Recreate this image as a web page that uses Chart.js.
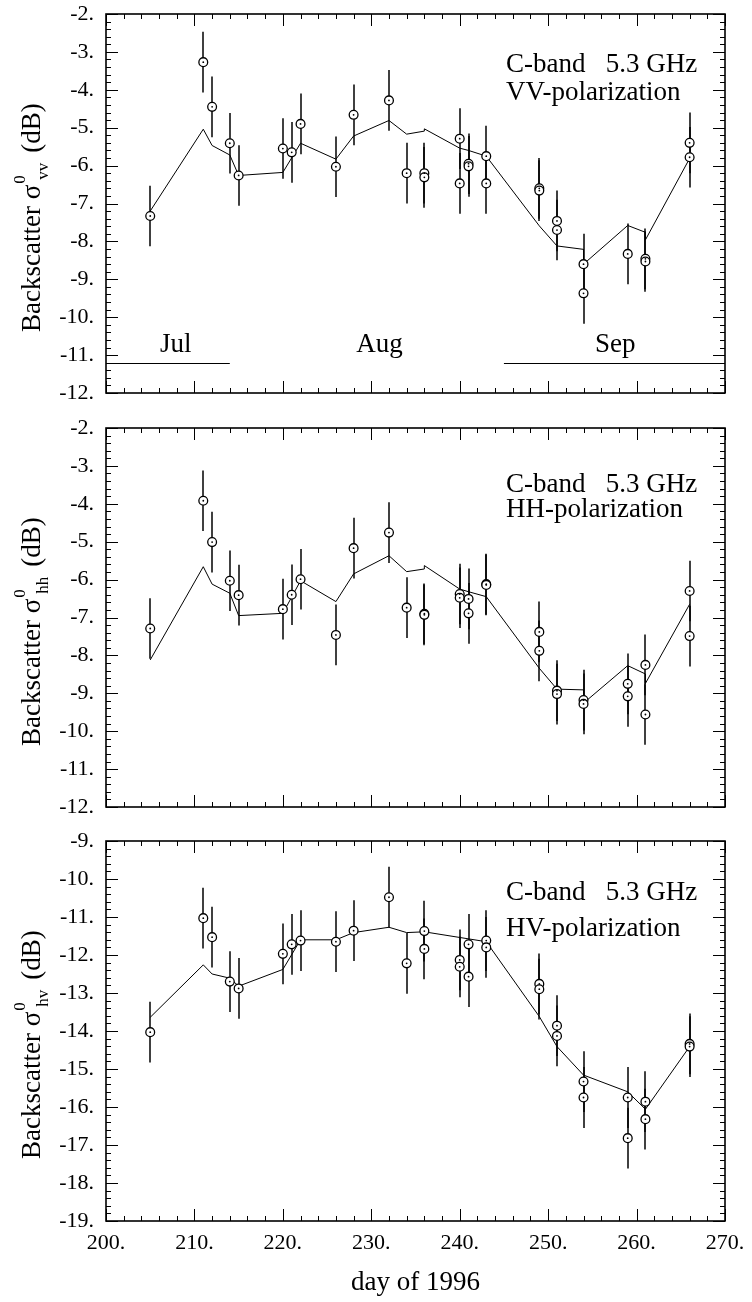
<!DOCTYPE html>
<html>
<head>
<meta charset="utf-8">
<script src="https://cdn.jsdelivr.net/npm/chart.js@4.4.1/dist/chart.umd.min.js"></script>
<style>
  html, body { margin: 0; padding: 0; background: #fff; }
  #wrap { position: relative; width: 752px; height: 1302px; }
  canvas { position: absolute; left: 0; }
</style>
</head>
<body>
<div id="wrap">
  <canvas id="vv" width="752" height="410" style="top:0px"></canvas>
  <canvas id="hh" width="752" height="415" style="top:410px"></canvas>
  <canvas id="hv" width="752" height="477" style="top:825px"></canvas>
</div>
<script>
const serif = "'Liberation Serif', 'DejaVu Serif', serif";

// measured backscatter (dB) per day of 1996
const vvDays = [205, 211, 212, 214, 215, 220, 221, 222, 226, 228, 232, 234, 236, 236, 240, 240, 241, 241, 243, 243, 249, 249, 251, 251, 254, 254, 259, 261, 261, 266, 266];
const vvVals = [-7.33, -3.27, -4.45, -5.41, -6.26, -5.55, -5.65, -4.9, -6.03, -4.66, -4.28, -6.2, -6.2, -6.31, -5.29, -6.47, -5.95, -6.02, -5.75, -6.47, -6.6, -6.66, -7.46, -7.7, -8.6, -9.37, -8.33, -8.46, -8.53, -5.4, -5.78];

const hhDays = [205, 211, 212, 214, 215, 220, 221, 222, 226, 228, 232, 234, 236, 236, 240, 240, 241, 241, 243, 243, 249, 249, 251, 251, 254, 254, 259, 259, 261, 261, 266, 266];
const hhVals = [-7.29, -3.92, -5.01, -6.03, -6.41, -6.78, -6.4, -5.99, -7.46, -5.17, -4.76, -6.74, -6.9, -6.93, -6.38, -6.48, -6.51, -6.89, -6.12, -6.14, -7.38, -7.88, -8.93, -9.02, -9.18, -9.28, -8.75, -9.08, -8.25, -9.56, -6.3, -7.49];

const hvDays = [205, 211, 212, 214, 215, 220, 221, 222, 226, 228, 232, 234, 236, 236, 240, 240, 241, 241, 243, 243, 249, 249, 251, 251, 254, 254, 259, 259, 261, 261, 266, 266];
const hvVals = [-14.03, -11.03, -11.53, -12.7, -12.88, -11.97, -11.72, -11.62, -11.65, -11.36, -10.48, -12.22, -11.37, -11.84, -12.13, -12.31, -11.72, -12.57, -11.62, -11.8, -12.76, -12.9, -13.86, -14.13, -15.33, -15.75, -15.75, -16.82, -15.86, -16.32, -14.34, -14.41];

// model curves
const vvModelDays = [205, 211, 212, 214, 215, 220, 222, 226, 228, 232, 234, 236, 236, 240, 241, 243, 249, 251, 254, 254, 259, 261, 261, 266];
const vvModel = [-7.2, -5.04, -5.47, -5.72, -6.26, -6.18, -5.41, -5.83, -5.22, -4.81, -5.17, -5.09, -5.03, -5.54, -5.6, -5.75, -7.59, -8.12, -8.21, -8.6, -7.58, -7.76, -7.96, -5.81];

const hhModelDays = [205, 211, 212, 214, 215, 220, 222, 226, 228, 232, 234, 236, 236, 240, 241, 243, 249, 251, 254, 254, 259, 261, 261, 266];
const hhModel = [-8.12, -5.66, -6.12, -6.36, -6.95, -6.89, -6.03, -6.58, -5.85, -5.37, -5.79, -5.72, -5.63, -6.25, -6.32, -6.45, -8.34, -8.89, -8.91, -9.26, -8.27, -8.49, -8.74, -6.65];

const hvModelDays = [205, 211, 212, 214, 215, 220, 222, 226, 228, 232, 234, 236, 243, 249, 251, 254, 259, 261, 266];
const hvModel = [-13.64, -12.26, -12.5, -12.61, -12.82, -12.38, -11.6, -11.6, -11.41, -11.27, -11.41, -11.39, -11.65, -13.62, -14.41, -15.16, -15.6, -16.06, -14.41];

const errDb = 0.8;

const monthNames = ["Jul", "Aug", "Sep"];
const monthLabelDays = [206.1, 228.3, 255.3];
const monthLabelLevel = -10.92;
const monthBars = [[200, 214], [245, 270]];
const monthBarLevel = -11.2;

const errorBars = {
  id: "errorBars",
  beforeDatasetsDraw(chart) {
    const ds = chart.data.datasets[1];
    const xs = chart.scales.x;
    const ys = chart.scales.y;
    const ctx = chart.ctx;
    ctx.save();
    ctx.strokeStyle = "#000";
    ctx.lineWidth = 1.5;
    ds.data.forEach((p) => {
      const x = Math.round(xs.getPixelForValue(p.x));
      ctx.beginPath();
      ctx.moveTo(x, ys.getPixelForValue(p.y - ds.err));
      ctx.lineTo(x, ys.getPixelForValue(p.y + ds.err));
      ctx.stroke();
    });
    ctx.restore();
  },
  afterDatasetsDraw(chart) {
    // centre dot of each marker
    const ctx = chart.ctx;
    ctx.save();
    ctx.fillStyle = "#000";
    chart.getDatasetMeta(1).data.forEach((pt) => {
      ctx.beginPath();
      ctx.arc(pt.x, pt.y, 0.9, 0, 2 * Math.PI);
      ctx.fill();
    });
    ctx.restore();
  },
};

const frame = {
  id: "frame",
  afterDraw(chart) {
    const ctx = chart.ctx;
    const a = chart.chartArea;
    const xs = chart.scales.x;
    const ys = chart.scales.y;
    const cfg = chart.options.plugins.frame;
    ctx.save();
    ctx.strokeStyle = "#000";
    ctx.lineWidth = 1;
    // y ticks, every 0.2 dB
    const n = Math.round((ys.max - ys.min) * 5);
    for (let i = 0; i <= n; i++) {
      const y = Math.round(ys.getPixelForValue(ys.min + i / 5)) + 0.5;
      const len = i % 5 === 0 ? 12 : 5;
      ctx.beginPath();
      ctx.moveTo(a.left, y);
      ctx.lineTo(a.left + len, y);
      ctx.moveTo(a.right, y);
      ctx.lineTo(a.right - len, y);
      ctx.stroke();
    }
    // x ticks, every 2 days
    for (let d = xs.min; d <= xs.max; d += 2) {
      const x = Math.round(xs.getPixelForValue(d)) + 0.5;
      const len = (d - xs.min) % 10 === 0 ? 12 : 5;
      ctx.beginPath();
      ctx.moveTo(x, a.bottom);
      ctx.lineTo(x, a.bottom - len);
      ctx.moveTo(x, a.top);
      ctx.lineTo(x, a.top + len);
      ctx.stroke();
    }
    ctx.lineWidth = 1.6;
    ctx.strokeRect(a.left, a.top, a.right - a.left, a.bottom - a.top);

    ctx.fillStyle = "#000";
    ctx.font = "27px " + serif;
    ctx.textBaseline = "alphabetic";
    ctx.textAlign = "left";
    ctx.fillText("C-band   5.3 GHz", 506, a.top + cfg.textY[0]);
    ctx.fillText(cfg.pol + "-polarization", 506, a.top + cfg.textY[1]);

    if (cfg.months) {
      monthNames.forEach((m, i) => {
        ctx.fillText(m, xs.getPixelForValue(monthLabelDays[i]), ys.getPixelForValue(monthLabelLevel));
      });
      ctx.lineWidth = 1;
      monthBars.forEach((b) => {
        const y = Math.round(ys.getPixelForValue(monthBarLevel)) + 0.5;
        ctx.beginPath();
        ctx.moveTo(xs.getPixelForValue(b[0]), y);
        ctx.lineTo(xs.getPixelForValue(b[1]), y);
        ctx.stroke();
      });
    }

    // rotated y title: Backscatter sigma^0_sub (dB)
    ctx.translate(40, a.top + 318);
    ctx.rotate(-Math.PI / 2);
    ctx.font = "27px " + serif;
    let x = 0;
    ctx.fillText("Backscatter ", x, 0);
    x += ctx.measureText("Backscatter ").width;
    ctx.fillText("\u03c3", x, 0);
    x += ctx.measureText("\u03c3").width + 1;
    ctx.font = "17px " + serif;
    ctx.fillText("0", x, -15);
    ctx.fillText(cfg.sub, x + 4, 8);
    x += 4 + ctx.measureText(cfg.sub).width + 10;
    ctx.font = "27px " + serif;
    ctx.fillText("(dB)", x, 0);
    ctx.restore();
  },
};

function toPoints(days, vals) {
  return days.map((d, i) => ({ x: d, y: vals[i] }));
}

function noScalePadding(s) {
  s.paddingTop = 0;
  s.paddingBottom = 0;
  s.paddingLeft = 0;
  s.paddingRight = 0;
}

function makePanel(id, p) {
  const tickFont = { family: serif, size: 22 };
  return new Chart(document.getElementById(id), {
    type: "scatter",
    data: {
      datasets: [
        {
          data: toPoints(p.modelDays, p.model),
          showLine: true,
          borderColor: "#000",
          borderWidth: 1,
          pointRadius: 0,
          tension: 0,
          order: 2,
        },
        {
          data: toPoints(p.days, p.vals),
          err: errDb,
          pointStyle: "circle",
          pointRadius: 4.4,
          pointBackgroundColor: "#fff",
          pointBorderColor: "#000",
          pointBorderWidth: 1.3,
          order: 1,
        },
      ],
    },
    options: {
      responsive: false,
      animation: false,
      devicePixelRatio: 1,
      events: [],
      layout: { padding: { top: p.padTop, right: 27, left: 0, bottom: 0 } },
      plugins: {
        legend: { display: false },
        tooltip: { enabled: false },
        frame: { textY: p.textY, pol: p.pol, sub: p.sub, months: p.months },
      },
      scales: {
        x: {
          type: "linear",
          min: 200,
          max: 270,
          grid: { display: false, drawTicks: false },
          border: { display: false },
          ticks: {
            display: p.showX,
            stepSize: 10,
            padding: 9,
            color: "#000",
            font: tickFont,
            maxRotation: 0,
            callback: (v) => v + ".",
          },
          title: {
            display: p.showX,
            text: "day of 1996",
            color: "#000",
            font: { family: serif, size: 27 },
            padding: { top: 0, bottom: 3 },
          },
          afterFit: (s) => {
            s.height = p.xHeight;
            noScalePadding(s);
          },
        },
        y: {
          type: "linear",
          min: p.yMin,
          max: p.yMax,
          grid: { display: false, drawTicks: false },
          border: { display: false },
          ticks: {
            stepSize: 1,
            padding: 12,
            autoSkip: false,
            color: "#000",
            font: tickFont,
            callback: (v) => v + ".",
          },
          afterFit: (s) => {
            s.width = 106;
            noScalePadding(s);
          },
        },
      },
    },
    plugins: [errorBars, frame],
  });
}

makePanel("vv", {
  days: vvDays, vals: vvVals, modelDays: vvModelDays, model: vvModel,
  yMin: -12, yMax: -2, padTop: 14, xHeight: 17, showX: false,
  textY: [58, 86], pol: "VV", sub: "vv", months: true,
});
makePanel("hh", {
  days: hhDays, vals: hhVals, modelDays: hhModelDays, model: hhModel,
  yMin: -12, yMax: -2, padTop: 18, xHeight: 18, showX: false,
  textY: [64, 89], pol: "HH", sub: "hh", months: false,
});
makePanel("hv", {
  days: hvDays, vals: hvVals, modelDays: hvModelDays, model: hvModel,
  yMin: -19, yMax: -9, padTop: 16, xHeight: 81, showX: true,
  textY: [59, 95], pol: "HV", sub: "hv", months: false,
});
</script>
</body>
</html>
